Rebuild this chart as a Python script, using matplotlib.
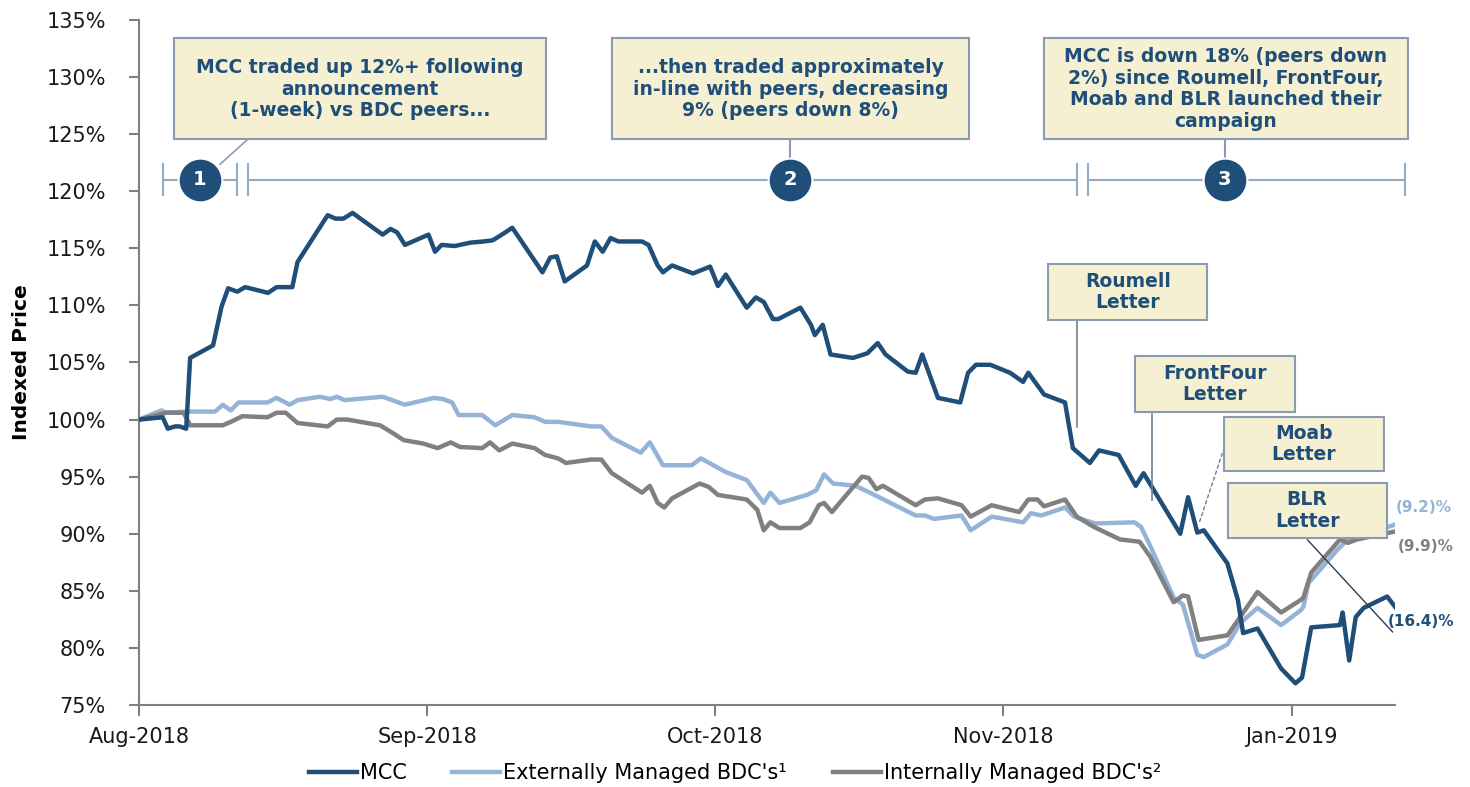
import matplotlib.pyplot as plt
from matplotlib.patches import Rectangle

# trading-day index (0 = start of Aug-2018) and indexed price (%)
mcc_day = [0, 1.8, 2.2, 2.75, 3.1, 3.6, 3.9, 5.65, 6.3, 6.8, 7.5, 8.1, 9.85, 10.5, 11.7, 12.1,
           14.4, 15.0, 15.6, 16.3, 18.6, 19.2, 19.7, 20.3, 22.1, 22.6, 23.1, 24.1, 25.3, 26.3,
           27.0, 27.7, 28.5, 30.8, 31.4, 31.9, 32.5, 34.2, 34.8, 35.4, 36.0, 36.6, 38.4, 38.9,
           39.6, 40.0, 40.7, 42.3, 43.6, 44.2, 44.8, 46.4, 47.1, 47.7, 48.4, 48.8, 50.5, 51.3,
           51.6, 52.2, 52.8, 54.5, 55.6, 56.4, 57.0, 58.7, 59.3, 59.8, 61.0, 62.7, 63.3, 63.9,
           65.0, 66.5, 67.5, 67.9, 69.1, 70.7, 71.3, 72.6, 73.3, 74.8, 76.1, 76.7, 79.5, 80.1,
           80.8, 81.3, 83.1, 83.9, 84.3, 85.4, 87.2, 88.3, 88.8, 89.5, 91.7, 91.9, 92.4, 92.9,
           93.5, 95.3, 95.9]
mcc_val = [100.0, 100.2, 99.2, 99.4, 99.4, 99.2, 105.4, 106.5, 109.9, 111.5, 111.2, 111.6, 111.1,
           111.6, 111.6, 113.8, 117.9, 117.6, 117.6, 118.1, 116.2, 116.7, 116.4, 115.3, 116.2,
           114.7, 115.3, 115.2, 115.5, 115.6, 115.7, 116.2, 116.8, 112.9, 114.2, 114.3, 112.1,
           113.5, 115.6, 114.7, 115.9, 115.6, 115.6, 115.3, 113.5, 112.9, 113.5, 112.8, 113.4,
           111.7, 112.7, 109.8, 110.7, 110.3, 108.8, 108.8, 109.8, 108.3, 107.4, 108.3, 105.7,
           105.4, 105.8, 106.7, 105.7, 104.2, 104.1, 105.7, 101.9, 101.5, 104.1, 104.8, 104.8,
           104.1, 103.3, 104.1, 102.2, 101.5, 97.5, 96.2, 97.3, 96.9, 94.2, 95.3, 90.0, 93.2,
           90.1, 90.3, 87.4, 84.2, 81.3, 81.7, 78.2, 76.9, 77.4, 81.8, 82.0, 83.1, 78.9, 82.7,
           83.5, 84.5, 83.6]

ext_day = [0, 1.7, 2.1, 3.5, 5.8, 6.4, 7.0, 7.6, 9.8, 10.5, 11.5, 12.1, 13.8, 14.6, 15.1, 15.7,
           18.6, 20.3, 22.5, 23.2, 23.9, 24.4, 26.2, 27.2, 28.5, 30.2, 31.0, 32.0, 34.5, 35.3,
           36.1, 38.3, 39.0, 40.0, 42.2, 42.9, 44.8, 46.4, 47.7, 48.2, 48.9, 51.0, 51.7, 52.3,
           53.0, 54.7, 55.8, 59.3, 60.0, 60.7, 62.8, 63.5, 65.1, 67.5, 68.1, 68.9, 70.7, 71.4,
           73.0, 76.0, 76.5, 77.1, 79.0, 79.7, 80.8, 81.3, 83.1, 84.1, 85.4, 87.2, 88.7, 88.9,
           89.3, 91.5, 92.3, 93.0, 95.9]
ext_val = [100.0, 100.8, 100.6, 100.7, 100.7, 101.3, 100.8, 101.5, 101.5, 101.9, 101.3, 101.7,
           102.0, 101.8, 102.0, 101.7, 102.0, 101.3, 101.9, 101.8, 101.5, 100.4, 100.4, 99.5,
           100.4, 100.2, 99.8, 99.8, 99.4, 99.4, 98.4, 97.1, 98.0, 96.0, 96.0, 96.6, 95.4, 94.7,
           92.7, 93.6, 92.7, 93.4, 93.8, 95.2, 94.4, 94.2, 93.6, 91.6, 91.6, 91.3, 91.6, 90.3,
           91.5, 91.0, 91.8, 91.6, 92.3, 91.5, 90.9, 91.0, 90.6, 89.2, 84.4, 83.8, 79.4, 79.2,
           80.3, 82.2, 83.5, 82.0, 83.3, 83.6, 85.7, 88.6, 89.5, 89.7, 90.8]

int_day = [0, 2.1, 3.4, 3.9, 6.4, 7.0, 7.9, 9.8, 10.5, 11.2, 12.1, 14.4, 15.1, 15.9, 18.4, 19.4,
           20.2, 21.7, 22.8, 23.8, 24.5, 26.2, 26.8, 27.5, 28.5, 30.2, 31.0, 32.0, 32.6, 34.5,
           35.3, 36.1, 38.4, 39.0, 39.6, 40.1, 40.7, 42.8, 43.5, 44.2, 46.4, 47.2, 47.7, 48.2,
           48.9, 50.5, 51.2, 51.9, 52.3, 52.9, 55.2, 55.7, 56.3, 56.8, 59.3, 60.0, 61.0, 62.8,
           63.5, 65.1, 67.2, 67.9, 68.6, 69.1, 70.7, 71.6, 72.9, 74.9, 76.4, 77.2, 79.0, 79.7,
           80.1, 80.9, 83.1, 85.4, 87.2, 88.7, 88.9, 89.5, 91.7, 92.3, 93.0, 95.9]
int_val = [100.0, 100.6, 100.6, 99.5, 99.5, 99.8, 100.3, 100.2, 100.6, 100.6, 99.7, 99.4, 100.0,
           100.0, 99.5, 98.8, 98.2, 97.9, 97.5, 98.0, 97.6, 97.5, 98.0, 97.3, 97.9, 97.5, 96.9,
           96.6, 96.2, 96.5, 96.5, 95.3, 93.6, 94.2, 92.7, 92.3, 93.1, 94.4, 94.1, 93.4, 93.0,
           92.1, 90.3, 91.0, 90.5, 90.5, 91.0, 92.5, 92.7, 91.9, 95.0, 94.9, 93.9, 94.2, 92.5,
           93.0, 93.1, 92.5, 91.5, 92.5, 91.9, 93.0, 93.0, 92.4, 93.0, 91.5, 90.6, 89.5, 89.3,
           88.0, 84.0, 84.6, 84.5, 80.7, 81.1, 84.9, 83.1, 84.2, 84.4, 86.6, 89.5, 89.2, 89.5,
           90.2]

series_names = ["MCC", "Externally Managed BDC's¹", "Internally Managed BDC's²"]
end_labels = ["(16.4)%", "(9.2)%", "(9.9)%"]

tick_days = [0, 22, 44, 66, 88]
tick_labels = ["Aug-2018", "Sep-2018", "Oct-2018", "Nov-2018", "Jan-2019"]

phase_nums = ["1", "2", "3"]
phase_texts = ["MCC traded up 12%+ following\nannouncement\n(1-week) vs BDC peers...",
               "...then traded approximately\nin-line with peers, decreasing\n9% (peers down 8%)",
               "MCC is down 18% (peers down\n2%) since Roumell, FrontFour,\nMoab and BLR launched their\ncampaign"]
letter_texts = ["Roumell\nLetter", "FrontFour\nLetter", "Moab\nLetter", "BLR\nLetter"]

DARK = "#1F4E79"
LIGHT = "#95B3D7"
GREY = "#808080"
CREAM = "#F5F0D2"
EDGE = "#8A9BB0"
TL = "#94ABC2"

fig = plt.figure(figsize=(14.7, 7.87), dpi=100)
ax = fig.add_axes([0.0946, 0.1042, 0.8544, 0.8704])

ax.plot(ext_day, ext_val, color=LIGHT, lw=3.2, zorder=3, label=series_names[1])
ax.plot(int_day, int_val, color=GREY, lw=3.2, zorder=4, label=series_names[2])
ax.plot(mcc_day, mcc_val, color=DARK, lw=3.2, zorder=5, label=series_names[0])

ax.set_xlim(0, 95.9)
ax.set_ylim(75, 135)
ax.set_yticks(range(75, 136, 5))
ax.set_yticklabels([f"{v}%" for v in range(75, 136, 5)])
ax.set_xticks(tick_days)
ax.set_xticklabels(tick_labels)
ax.tick_params(axis="y", labelsize=15, length=7, width=1.5, color=GREY, pad=17, labelcolor="#1a1a1a")
ax.tick_params(axis="x", labelsize=15, length=8, width=1.5, color=GREY, pad=8, labelcolor="#1a1a1a")
for s in ["top", "right"]:
    ax.spines[s].set_visible(False)
for s in ["left", "bottom"]:
    ax.spines[s].set_color(GREY)
    ax.spines[s].set_linewidth(1.5)
ax.set_ylabel("Indexed Price", fontsize=14.5, fontweight="bold")
ax.yaxis.set_label_coords(-0.086, 0.5)

# phase timeline
tl_y = 121.0
for a, b in [(1.83, 7.49), (8.33, 71.65), (72.42, 96.63)]:
    ax.plot([a, b], [tl_y, tl_y], color=TL, lw=1.5, zorder=6, clip_on=False)
for xb in [1.83, 7.49, 8.33, 71.65, 72.42, 96.63]:
    ax.plot([xb, xb], [119.66, 122.37], color=TL, lw=1.5, zorder=6, clip_on=False)

phase_x = [4.66, 49.73, 82.88]
boxes = [(2.67, 31.09), (36.13, 63.40), (69.06, 96.86)]
for num, px, txt, (x0, x1) in zip(phase_nums, phase_x, phase_texts, boxes):
    ax.plot([px], [tl_y], marker="o", ms=31.5, color=DARK, mec="white", mew=1.5,
            zorder=8, clip_on=False)
    ax.text(px, tl_y, num, color="white", fontsize=14, fontweight="bold",
            ha="center", va="center", zorder=9)
    ax.add_patch(Rectangle((x0, 124.58), x1 - x0, 133.42 - 124.58, fc=CREAM, ec=EDGE,
                           lw=1.5, zorder=7, clip_on=False))
    ax.text((x0 + x1) / 2, 128.95, txt, color=DARK, fontsize=13.5, fontweight="bold",
            ha="center", va="center", zorder=8, linespacing=1.17)

ax.plot([8.25, 6.19], [124.5, 122.37], color=EDGE, lw=1.2, zorder=6)
ax.plot([49.73, 49.73], [124.58, 122.9], color=EDGE, lw=1.5, zorder=6)
ax.plot([82.88, 82.88], [124.58, 122.9], color=EDGE, lw=1.5, zorder=6)

# letter callouts
letter_boxes = [(69.44, 81.58, 108.72, 113.63), (76.08, 88.23, 100.67, 105.57),
                (82.81, 95.03, 95.50, 100.23), (83.11, 95.26, 89.63, 94.45)]
ax.plot([71.65, 71.65], [108.72, 99.35], color="#6F7F90", lw=1.2, zorder=6)
ax.plot([77.38, 77.38], [100.67, 92.96], color="#6F7F90", lw=1.2, zorder=6)
ax.plot([82.88, 80.97], [97.6, 91.03], color="#6F7F90", lw=1.0, ls=(0, (3, 1.5)), zorder=6)
ax.plot([89.22, 95.71], [89.46, 81.40], color="#2E3E50", lw=1.0, zorder=6, clip_on=False)
for txt, (x0, x1, y0, y1) in zip(letter_texts, letter_boxes):
    ax.add_patch(Rectangle((x0, y0), x1 - x0, y1 - y0, fc=CREAM, ec=EDGE, lw=1.5,
                           zorder=7, clip_on=False))
    ax.text((x0 + x1) / 2, (y0 + y1) / 2, txt, color=DARK, fontsize=13.5,
            fontweight="bold", ha="center", va="center", zorder=8, linespacing=1.15)

# end-of-period labels
ax.text(95.33, 82.27, end_labels[0], color=DARK, fontsize=11, fontweight="bold",
        va="center", ha="left", zorder=9, clip_on=False)
ax.text(95.94, 92.26, end_labels[1], color=LIGHT, fontsize=11, fontweight="bold",
        va="center", ha="left", zorder=9, clip_on=False)
ax.text(96.1, 88.84, end_labels[2], color=GREY, fontsize=11, fontweight="bold",
        va="center", ha="left", zorder=9, clip_on=False)

handles, labels = ax.get_legend_handles_labels()
order = [2, 0, 1]
fig.legend([handles[i] for i in order], [labels[i] for i in order], loc="center",
           bbox_to_anchor=(0.5, 0.018), ncol=3, frameon=False, fontsize=15,
           handlelength=2.3, handletextpad=0.15, columnspacing=2.2)

fig.savefig("out.png", dpi=100)
